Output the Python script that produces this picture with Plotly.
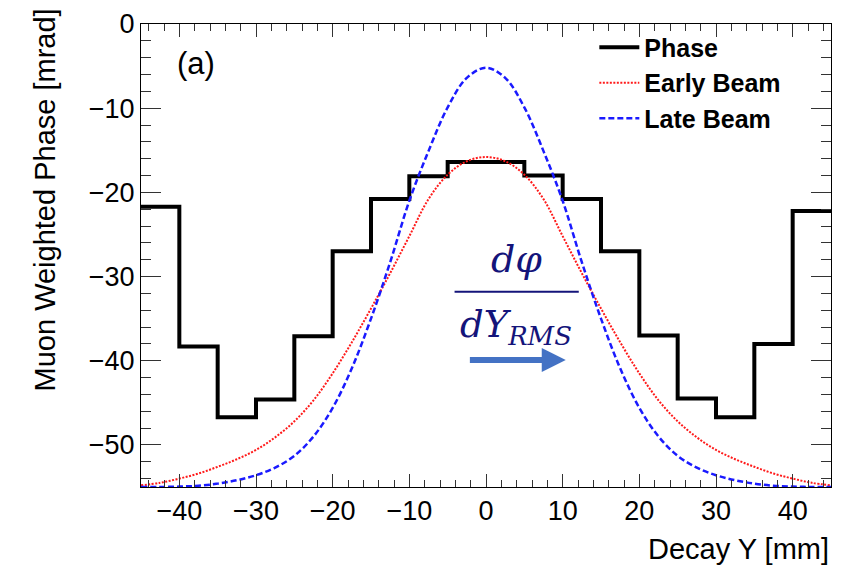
import plotly.graph_objects as go

# Phase histogram (bin edges and values)
bin_edges = [-45, -40, -35, -30, -25, -20, -15, -10, -5, 0, 5, 10, 15, 20, 25, 30, 35, 40, 45]
phase_vals = [-21.7, -38.3, -46.7, -44.6, -37.1, -27.0, -20.8, -18.1, -16.4,
              -16.4, -18.0, -20.8, -27.0, -37.0, -44.5, -46.7, -38.0, -22.2]

# Beam curves
curve_x = [-45, -42.5, -40, -37.5, -35, -32.5, -30, -27.5, -25, -22.5, -20, -17.5, -15, -12.5,
           -10, -7.5, -5, -2.5, 0, 2.5, 5, 7.5, 10, 12.5, 15, 17.5, 20, 22.5, 25, 27.5,
           30, 32.5, 35, 37.5, 40, 42.5, 45]
early_vals = [-54.8, -54.5, -54.0, -53.4, -52.6, -51.7, -50.6, -49.1, -47.2, -44.7, -41.5, -37.8,
              -33.8, -29.6, -25.2, -20.8, -17.9, -16.3, -15.8, -16.3, -17.9, -20.8, -25.2, -29.6,
              -33.8, -37.8, -41.5, -44.7, -47.2, -49.1, -50.6, -51.7, -52.6, -53.4, -54.0,
              -54.5, -54.8]
late_vals = [-55.0, -55.0, -54.95, -54.85, -54.6, -54.2, -53.6, -52.7, -51.3, -49.0, -45.6,
             -40.9, -35.0, -28.3, -21.0, -15.1, -9.9, -6.4, -5.2, -6.4, -9.9, -15.1, -21.0,
             -28.3, -35.0, -40.9, -45.6, -49.0, -51.3, -52.7, -53.6, -54.2, -54.6, -54.85,
             -54.95, -55.0, -55.0]

step_y = phase_vals + [phase_vals[-1]]

fig = go.Figure()
fig.add_trace(go.Scatter(x=bin_edges, y=step_y, mode="lines", line_shape="hv",
                         line=dict(color="black", width=4), name="Phase"))
fig.add_trace(go.Scatter(x=curve_x, y=early_vals, mode="lines", line_shape="spline",
                         line=dict(color="#ff1a1a", width=2, dash="2px,1.5px"), name="Early Beam"))
fig.add_trace(go.Scatter(x=curve_x, y=late_vals, mode="lines", line_shape="spline",
                         line=dict(color="#1a1aff", width=2.5, dash="6px,3px"), name="Late Beam"))

font_main = "Liberation Sans, Arial, sans-serif"

axis_common = dict(
    showline=True, linecolor="black", linewidth=1, mirror="ticks",
    ticks="inside", tickcolor="#333333", showgrid=False, zeroline=False,
    tickfont=dict(family=font_main, size=27, color="black"),
)
fig.update_xaxes(range=[-45, 45], dtick=10, tick0=0, ticklen=13,
                 minor=dict(ticks="inside", dtick=2, tick0=0, ticklen=7, tickcolor="#333333"),
                 **axis_common)
fig.update_yaxes(range=[-55, 0], dtick=10, tick0=0, ticklen=20,
                 minor=dict(ticks="inside", dtick=2, tick0=0, ticklen=10, tickcolor="#333333"),
                 **axis_common)

math_color = "#14147a"
annotations = [
    dict(text="Decay Y [mm]", xref="paper", yref="paper", x=1.0, y=-0.134,
         xanchor="right", yanchor="middle", showarrow=False,
         font=dict(family=font_main, size=29, color="black")),
    dict(text="Muon Weighted Phase [mrad]", xref="paper", yref="paper", x=-0.139, y=1.037,
         xanchor="center", yanchor="top", textangle=-90, showarrow=False,
         font=dict(family=font_main, size=29, color="black")),
    dict(text="(a)", xref="x", yref="y", x=-40.6, y=-4.7, xanchor="left", yanchor="middle",
         showarrow=False, font=dict(family=font_main, size=31, color="black")),
    dict(text="<i>dφ</i>", xref="x", yref="y", x=4.0, y=-27.9, showarrow=False,
         font=dict(family="DejaVu Serif, serif", size=38, color=math_color)),
    dict(text="<i>dY<sub>RMS</sub></i>", xref="x", yref="y", x=3.9, y=-36.0, showarrow=False,
         font=dict(family="DejaVu Serif, serif", size=37, color=math_color)),
    dict(x=10.4, y=-39.9, ax=-2.3, ay=-39.9, xref="x", yref="y", axref="x", ayref="y",
         text="", showarrow=True, arrowhead=2, arrowsize=0.8, arrowwidth=6,
         arrowcolor="#4472c4"),
]

shapes = [
    dict(type="line", xref="x", yref="y", x0=-4.1, x1=12.1, y0=-31.8, y1=-31.8,
         line=dict(color=math_color, width=2)),
]

fig.update_layout(
    width=841, height=567,
    margin=dict(l=141, r=9, t=18, b=80),
    paper_bgcolor="white", plot_bgcolor="white",
    showlegend=True,
    legend=dict(x=0.657, y=0.999, xanchor="left", yanchor="top",
                bgcolor="rgba(255,255,255,0)", borderwidth=0,
                font=dict(family=font_main, size=25, color="black", weight="bold"),
                itemwidth=40, tracegroupgap=0),
    annotations=annotations, shapes=shapes,
)

fig.write_html("out.html")
